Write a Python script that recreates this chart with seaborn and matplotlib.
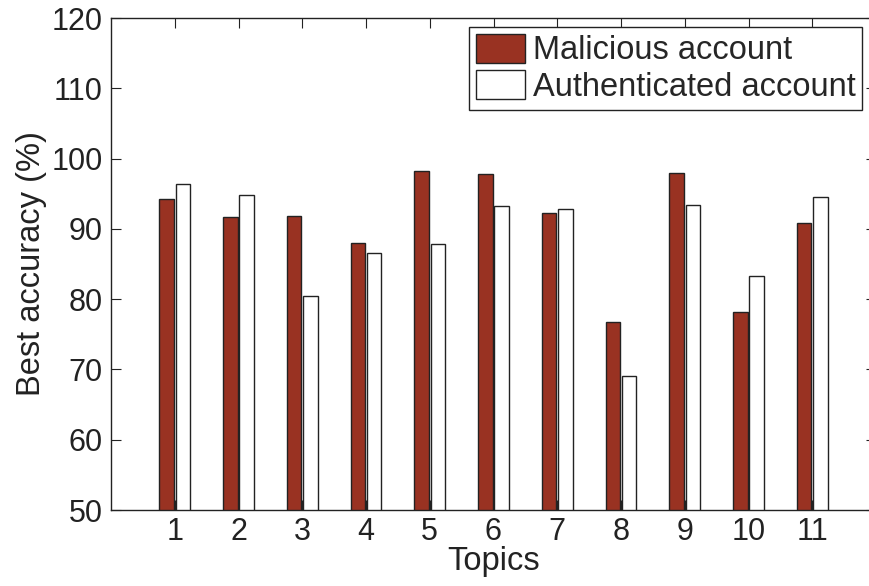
import matplotlib
matplotlib.use("Agg")
import matplotlib.pyplot as plt
import pandas as pd
import seaborn as sns

topics = ["1", "2", "3", "4", "5", "6", "7", "8", "9", "10", "11"]
malicious = [94.2, 91.7, 91.9, 88.0, 98.2, 97.8, 92.3, 76.7, 97.9, 78.1, 90.9]
authenticated = [96.4, 94.8, 80.5, 86.6, 87.8, 93.2, 92.8, 69.0, 93.4, 83.3, 94.6]
series_names = ["Malicious account", "Authenticated account"]
yticks = [50, 60, 70, 80, 90, 100, 110, 120]

df = pd.DataFrame({
    "Topic": topics * 2,
    "Accuracy": malicious + authenticated,
    "Account": [series_names[0]] * len(topics) + [series_names[1]] * len(topics),
})

sns.set_style("ticks")
plt.rcParams["font.family"] = ["Liberation Sans", "DejaVu Sans"]

fig = plt.figure(figsize=(8.69, 5.86), dpi=100)
ax = fig.add_axes([111 / 869, 76 / 586, 765 / 869, 492 / 586])

sns.barplot(
    data=df, x="Topic", y="Accuracy", hue="Account", order=topics,
    hue_order=series_names,
    palette={series_names[0]: "#993222", series_names[1]: "#ffffff"},
    saturation=1, width=0.51, gap=0.1, edgecolor="#222222", linewidth=1.0,
    errorbar=None, ax=ax,
)

ax.set_xlim(-1, 11)
ax.set_ylim(50, 120)
ax.set_yticks(yticks)
ax.set_yticklabels([str(v) for v in yticks])

for side in ["top", "right", "left", "bottom"]:
    ax.spines[side].set_visible(True)
    ax.spines[side].set_color("#222222")
    ax.spines[side].set_linewidth(1.0)

ax.tick_params(axis="both", direction="in", length=7, width=0.8,
               top=True, right=True, labelsize=22, colors="#222222",
               labelcolor="#222222")
ax.tick_params(axis="x", pad=5)
ax.tick_params(axis="y", pad=6)

ax.set_xlabel("Topics", fontsize=23.5, color="#222222", labelpad=-1)
ax.set_ylabel("Best accuracy (%)", fontsize=23.5, color="#222222", labelpad=3)

handles, labels = ax.get_legend_handles_labels()
ax.legend(
    handles, labels, loc="upper right",
    bbox_to_anchor=(862 / 869, 1 - 27 / 586), bbox_transform=fig.transFigure,
    borderaxespad=0, fontsize=23.5, frameon=True, fancybox=False,
    edgecolor="#222222", framealpha=1, handlelength=1.5, handleheight=1.0,
    handletextpad=0.25, borderpad=0.2, labelspacing=0.12,
)
ax.get_legend().get_frame().set_linewidth(1.0)

fig.savefig("out.png", dpi=100)
